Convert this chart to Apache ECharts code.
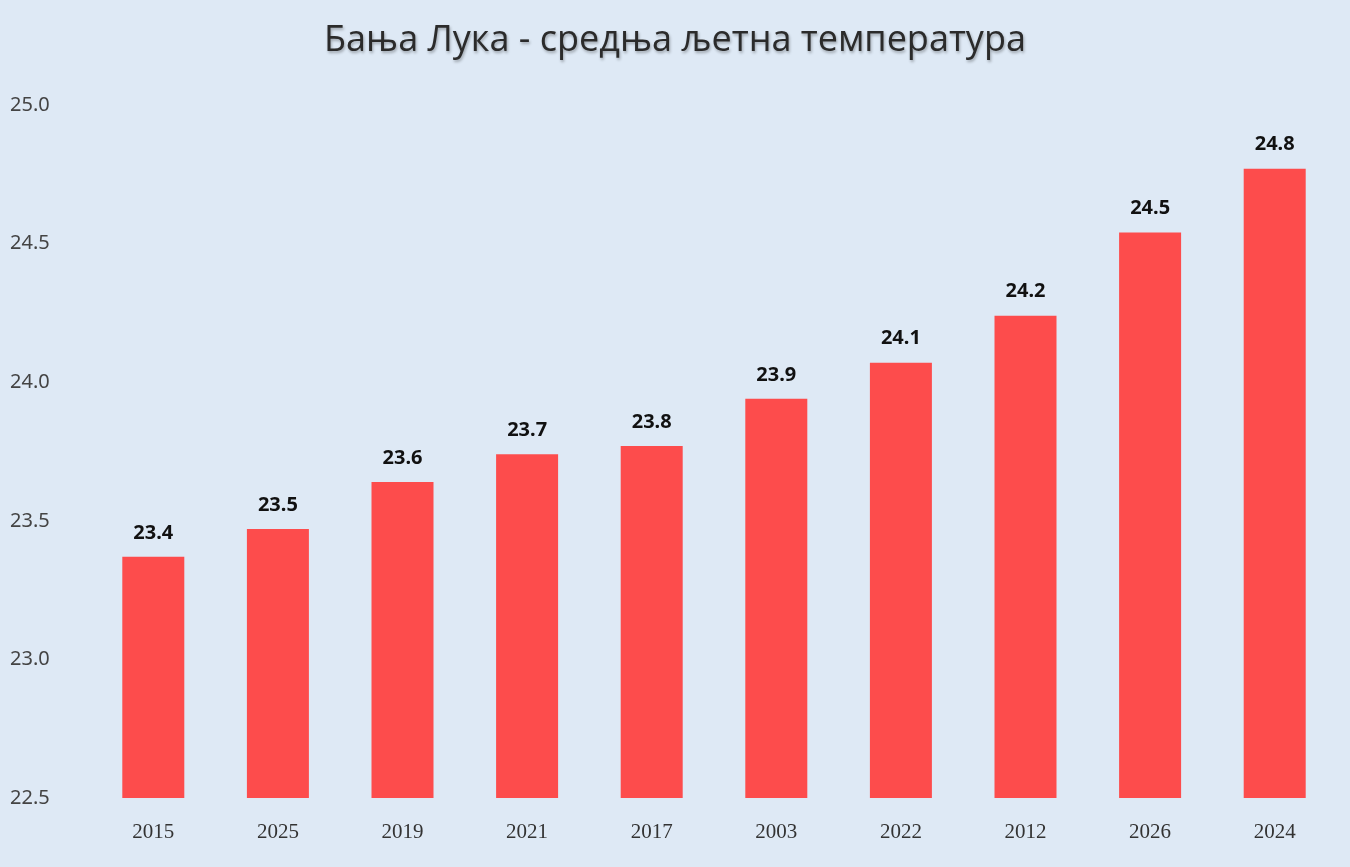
<!DOCTYPE html>
<html><head><meta charset="utf-8">
<script src="https://cdn.jsdelivr.net/npm/echarts@6/dist/echarts.min.js"></script>
<style>html,body{margin:0;padding:0;background:#dee9f5;}#c{width:1350px;height:867px;}</style>
</head><body><div id="c"></div>
<script>
const titleText = 'Бања Лука - средња љетна температура';
const categories = ['2015','2025','2019','2021','2017','2003','2022','2012','2026','2024'];
const values = [23.37,23.47,23.64,23.74,23.77,23.94,24.07,24.24,24.54,24.77];
const chart = echarts.init(document.getElementById('c'));
chart.setOption({
  backgroundColor:'#dee9f5',
  title:{text:titleText,left:'center',top:18,textStyle:{fontFamily:'Open Sans',fontSize:36,fontWeight:'normal',color:'#2b2b2b',textShadowColor:'rgba(0,0,0,0.3)',textShadowBlur:3,textShadowOffsetX:1,textShadowOffsetY:2}},
  grid:{left:91,right:13,top:105,bottom:69},
  xAxis:{type:'category',data:categories,axisLine:{show:false},axisTick:{show:false},
    axisLabel:{fontFamily:'Liberation Serif',fontSize:21,color:'#333',margin:24}},
  yAxis:{type:'value',min:22.5,max:25,interval:0.5,splitLine:{show:false},
    axisLabel:{fontFamily:'Noto Sans',fontSize:20,color:'#444',formatter:v=>v.toFixed(1),align:'left',margin:81}},
  series:[{type:'bar',data:values,barWidth:62,itemStyle:{color:'#fd4c4c'},
    label:{show:true,position:'top',distance:14,fontFamily:'Noto Sans',fontWeight:'bold',fontSize:20,color:'#111',formatter:p=>p.value.toFixed(1)}}]
});
</script></body></html>
